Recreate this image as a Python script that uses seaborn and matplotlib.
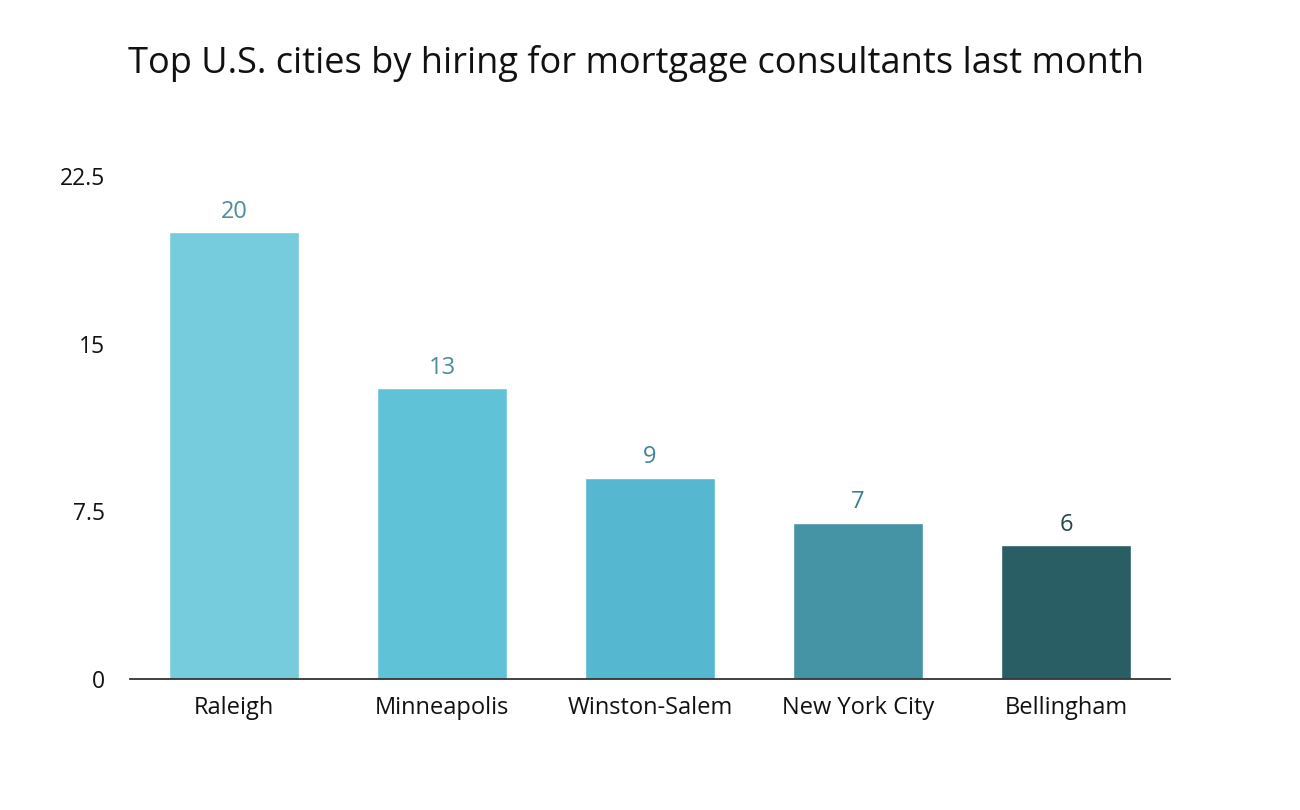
import matplotlib
matplotlib.use("Agg")
import matplotlib.pyplot as plt
import seaborn as sns
import pandas as pd

cities = ["Raleigh", "Minneapolis", "Winston-Salem", "New York City", "Bellingham"]
hires = [20, 13, 9, 7, 6]
bar_colors = ["#76CBDC", "#60C2D7", "#55B7D0", "#4494A6", "#285E64"]
label_colors = ["#4A8E9E", "#4A8E9E", "#3F8797", "#37808F", "#1F474C"]
yticks = [0, 7.5, 15, 22.5]
ytick_labels = ["0", "7.5", "15", "22.5"]
title = "Top U.S. cities by hiring for mortgage consultants last month"

sns.set_theme(style="white")
plt.rcParams['font.family'] = ['Open Sans', 'DejaVu Sans']

df = pd.DataFrame({"city": cities, "hires": hires})

fig = plt.figure(figsize=(13, 8.1), dpi=100)
ax = fig.add_axes([0.1, 0.1617, 0.8, 0.6210])
sns.barplot(data=df, x="city", y="hires", hue="city", palette=bar_colors,
            legend=False, width=0.625, saturation=1, ax=ax)

ax.set_xlim(-0.5, len(cities) - 0.5)
ax.set_ylim(0, 22.5)
ax.set_yticks(yticks)
ax.set_yticklabels(ytick_labels, fontsize=16.5, color="#111111")
ax.tick_params(axis="y", length=0, pad=18)
ax.tick_params(axis="x", length=0, pad=12, labelsize=17, labelcolor="#111111")
ax.set_xlabel("")
ax.set_ylabel("")
for s in ["top", "right", "left"]:
    ax.spines[s].set_visible(False)
ax.spines["bottom"].set_color("#333333")
ax.spines["bottom"].set_linewidth(1.3)

for i, cont in enumerate(ax.containers):
    ax.bar_label(cont, labels=[str(hires[i])], padding=6, fontsize=17,
                 color=label_colors[i])

fig.text(0.489, 0.922, title, ha="center", va="center", fontsize=26, color="#111111")

fig.savefig("out.png", dpi=100, facecolor="white")
